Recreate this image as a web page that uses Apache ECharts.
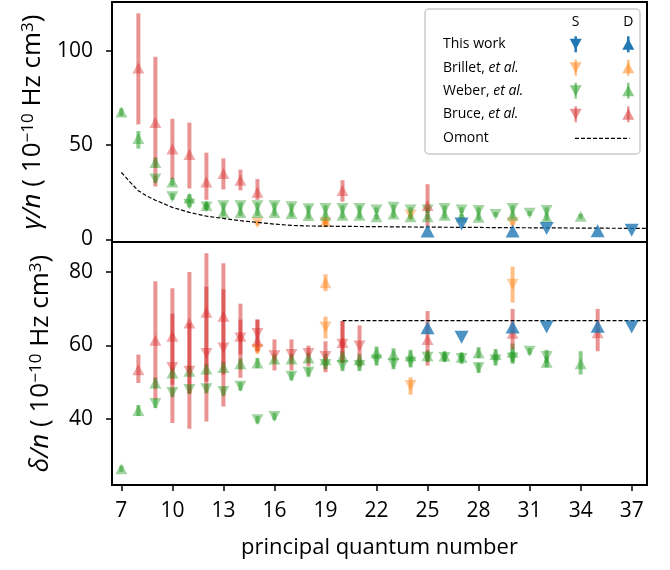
<!DOCTYPE html>
<html><head><meta charset="utf-8">
<script src="https://cdn.jsdelivr.net/npm/echarts@6/dist/echarts.min.js"></script>
<style>html,body{margin:0;padding:0;background:#fff}#c{width:670px;height:570px}</style>
</head><body><div id="c"></div>
<script>
// ---------- data ----------
const nTicks = [7,10,13,16,19,22,25,28,31,34,37];
const gammaTicks = [0,50,100];
const deltaTicks = [40,60,80];

// [n, value, errLow, errHigh]  -- top panel: gamma/n
const thisWorkS_gamma = [[27,8.1,8.1,8.1],[32,5.8,5.8,5.8],[37,4.9,4.9,4.9]];
const thisWorkD_gamma = [[25,4.4,4.4,4.4],[30,4.4,4.4,4.4],[35,4.6,4.6,4.6]];
const brilletS_gamma = [[15,8.8,7.5,10],[19,8.8,7.5,10],[24,12.9,11.5,14.5],[30,8.8,7.5,10]];
const brilletD_gamma = [[19,9.5,8,11]];
const weberS_gamma = [[9,32,30,34],[10,22.6,21,24.5],[11,18.7,17,20.5],[12,17.2,15.5,19],[13,17.8,16,19.5],[14,17.8,16,19.5],[15,17.8,16,19.5],[16,17.8,16,19.5],[17,17.3,15.5,19],[18,16.3,14.5,18],[19,16.4,14.5,18],[20,16.4,14.5,18],[21,16.4,14.5,18],[22,15.6,14,17],[23,17,15,18.5],[24,15.6,14,17],[25,15.6,14,17],[26,16.4,14.5,18],[27,15.6,14,17],[28,15.3,13.5,17],[29,13.2,12,14.5],[30,16.4,14.5,18],[31,13.8,12.5,15],[32,15.3,13.5,17]];
const weberD_gamma = [[7,67.6,65.5,69.5],[8,53.5,48.2,57.5],[9,40.8,38,43.5],[10,30.5,28.5,32.5],[11,22,20,24],[12,18,16,20],[13,14.2,12.5,16],[14,14.2,12.5,16],[15,14.2,12.5,16],[16,14.2,12.5,16],[17,13.7,12,15.5],[18,12.7,11,14.5],[19,12.8,11,14.5],[20,12.8,11,14.5],[21,12.8,11,14.5],[22,12,10.5,13.5],[23,13.4,11.5,15],[24,12,10.5,13.5],[25,12,10.5,13.5],[26,12.8,11,14.5],[27,12,10.5,13.5],[28,11.7,10,13.5],[30,12.8,11,14.5],[32,11.7,10,13.5],[34,12.3,11,13.5]];
const bruceD_gamma = [[8,91,61,120],[9,62,28,97],[10,48,32,64],[11,45,27,62],[12,30.5,21,46],[13,35,26.5,43],[14,31.4,26,37],[15,25,21,32],[20,26,20,31.4],[25,18,6.7,29.3]];
const omont_gamma = [[7,35.5],[7.5,30.5],[8,25.8],[8.5,23],[9,20.8],[10,17],[11,14.3],[12,12.3],[13,11.1],[14,9.9],[15,9.0],[16,8.1],[17,7.4],[18,7.1],[20,6.9],[25,6.5],[30,6.2],[37.9,5.8]];

// bottom panel: delta/n
const thisWorkS_delta = [[27,62.2,62.2,62.2],[32,65,65,65],[37,65,65,65]];
const thisWorkD_delta = [[25,64.8,64.8,64.8],[30,65,65,65],[35,65.2,65.2,65.2]];
const brilletS_delta = [[15,58.9,57.8,60],[19,65,61.9,67.8],[24,49.1,46.6,51.3],[30,76.6,71.6,81.4]];
const brilletD_delta = [[19,77,74.7,79.3]];
const weberS_delta = [[9,44.2,43,45.5],[10,47.2,46,48.5],[11,48,46.8,49.2],[12,48.2,47,49.5],[13,47.5,46.3,48.8],[14,48.9,47.7,50],[15,39.8,38.8,40.8],[16,40.7,39.7,41.7],[17,51.6,50.5,52.8],[18,52.7,51.5,54],[19,54.8,53.5,56],[20,54.5,53,56],[21,54.5,53,56],[22,56,54.5,57.5],[23,55,53.5,56.5],[24,55.4,54,57],[25,56.8,55.5,58],[26,56.7,55.5,58],[27,56.4,55,57.8],[28,53.9,52.5,55.3],[29,56,54.5,57.5],[30,56.6,55,58.2],[31,58.4,57.5,59.3],[32,57,55.2,58.8]];
const weberD_delta = [[7,26.5,25.7,27.3],[8,42.3,40.8,43.8],[9,49.8,48.3,51.3],[10,52.5,51,54],[11,53,51.5,54.5],[12,53.6,52,55],[13,54,52.5,55.5],[14,55,53.5,56.5],[15,55.2,53.8,56.6],[16,56.3,55,57.6],[17,56.3,55,57.6],[18,56.6,55.2,58],[19,56.1,54.5,57.7],[20,57,55.5,58.5],[21,56.1,54.5,57.7],[22,58,56.3,59.7],[23,57.5,55.8,59.2],[24,57.2,55.6,58.8],[25,57.2,55.7,58.7],[26,57.1,55.8,58.4],[27,56.8,55.5,58.1],[28,58,56.5,59.5],[29,57.5,56,59],[30,58.1,55.5,60.5],[32,55.4,54,57],[34,55,52.1,58.4]];
const bruceS_delta = [[10,54,49.3,68.6],[11,53,47,66],[12,57.8,50.2,75.9],[13,59.3,52,75.2],[14,62,57.5,67],[15,63.2,58.4,67],[16,57.2,53.2,61.6],[17,57.5,53.2,61.6],[18,57.8,54.3,59.9],[19,57,52.7,61.1],[20,60.3,55.2,66.6],[21,59.8,54.3,65.4]];
const bruceD_delta = [[8,53.4,49.8,57.5],[9,61.4,45.3,77.4],[10,62.5,38.9,75.5],[11,66.1,37.4,79.9],[12,69,39.3,85],[13,67.9,43.4,82.3],[14,62.5,51.2,71.3],[15,61.1,58.4,67],[20,60.8,55.2,66.6],[25,61.6,54.5,69.3],[30,63.3,58.9,69.9],[35,63.4,58.4,69.9]];
const omont_delta = [[20,66.7],[37.9,66.7]];

// ---------- styling ----------
const FONT = "'Open Sans', 'DejaVu Sans', sans-serif";
const C = {blue:'#1f77b4', orange:'#ff7f0e', green:'#2ca02c', red:'#d62728'};
function rgba(hex,a){const v=parseInt(hex.slice(1),16);return `rgba(${v>>16},${(v>>8)&255},${v&255},${a})`;}

function errSeries(data, idx, color, a){
  return {type:'custom', xAxisIndex:idx, yAxisIndex:idx, data:data.map(d=>[d[0],d[1],d[2],d[3]]),
    encode:{x:0,y:1}, z:2, silent:true,
    renderItem:(p,api)=>{
      const x=api.value(0), lo=api.value(2), hi=api.value(3);
      if (lo===hi) return null;
      const a1=api.coord([x,lo]), a2=api.coord([x,hi]);
      return {type:'line', shape:{x1:a1[0],y1:a1[1],x2:a2[0],y2:a2[1]}, style:{stroke:rgba(color,a), lineWidth:4}};
    }};
}
function markSeries(data, idx, color, up, a, size, z){
  return {type:'scatter', xAxisIndex:idx, yAxisIndex:idx, data:data.map(d=>[d[0],d[1]]),
    symbol:'triangle', symbolRotate: up?0:180, symbolSize:size, z:z, silent:true,
    itemStyle:{color:rgba(color,a)}};
}
function group(S, D, idx, color, a, size, z){
  const out=[];
  if (S) out.push(errSeries(S, idx, color, a));
  if (D) out.push(errSeries(D, idx, color, a));
  if (S) out.push(markSeries(S, idx, color, false, a, size, z));
  if (D) out.push(markSeries(D, idx, color, true, a, size, z));
  return out;
}

const series = [].concat(
  group(brilletS_gamma, brilletD_gamma, 0, C.orange, 0.5, [12,11], 3),
  group(weberS_gamma, weberD_gamma, 0, C.green, 0.55, [12,11], 3),
  group(null, bruceD_gamma, 0, C.red, 0.5, [12,11], 3),
  [{type:'line', xAxisIndex:0, yAxisIndex:0, data:omont_gamma, symbol:'none', silent:true, z:4,
    lineStyle:{color:'#000', width:1.2, type:[4,2]}}],
  group(thisWorkS_gamma, thisWorkD_gamma, 0, C.blue, 1, [14,13], 5),

  group(brilletS_delta, brilletD_delta, 1, C.orange, 0.5, [12,11], 3),
  group(weberS_delta, weberD_delta, 1, C.green, 0.55, [12,11], 3),
  group(bruceS_delta, bruceD_delta, 1, C.red, 0.5, [12,11], 3),
  [{type:'line', xAxisIndex:1, yAxisIndex:1, data:omont_delta, symbol:'none', silent:true, z:4,
    lineStyle:{color:'#000', width:1.2, type:[4,2]}}],
  group(thisWorkS_delta, thisWorkD_delta, 1, C.blue, 1, [14,13], 5)
);

const tickStyle = {color:'#000', width:1.5};
const labelStyle = {color:'#000', fontSize:21, fontFamily:FONT};
const nameRich = {
  t:{fontSize:26, fontFamily:FONT, color:'#000'},
  i:{fontSize:26, fontFamily:FONT, fontStyle:'italic', color:'#000'},
  s:{fontSize:17, fontFamily:FONT, color:'#000', verticalAlign:'top'}
};

// ---------- legend (graphic) ----------
const LX = 425, LY = 9, LW = 215, LH = 145;
const rowsY = [44.3, 67.7, 90.7, 114.3, 138.3];
const colS = 575.7, colD = 628.3;
function tri(cx, cy, up, color, w, h){
  const pts = up ? [[cx,cy-h/2],[cx-w/2,cy+h/2],[cx+w/2,cy+h/2]] : [[cx,cy+h/2],[cx-w/2,cy-h/2],[cx+w/2,cy-h/2]];
  return {type:'polygon', shape:{points:pts}, style:{fill:color}, z:101};
}
function stem(cx, cy, color){
  return {type:'line', shape:{x1:cx,y1:cy-8,x2:cx,y2:cy+8}, style:{stroke:color, lineWidth:2.5}, z:101};
}
const legendEls = [
  {type:'rect', shape:{x:LX,y:LY,width:LW,height:LH,r:4}, style:{fill:'rgba(255,255,255,0.85)', stroke:'#cccccc', lineWidth:1.5}, z:100},
  {type:'text', x:colS, y:21.7, style:{text:'S', fontSize:14, fontFamily:FONT, fill:'#000', align:'center', verticalAlign:'middle'}, z:101},
  {type:'text', x:colD, y:21.7, style:{text:'D', fontSize:14, fontFamily:FONT, fill:'#000', align:'center', verticalAlign:'middle'}, z:101}
];
const legRows = [
  {label:'{a|This work}', color:C.blue, a:1},
  {label:'{a|Brillet, }{b|et al.}', color:C.orange, a:0.5},
  {label:'{a|Weber, }{b|et al.}', color:C.green, a:0.55},
  {label:'{a|Bruce, }{b|et al.}', color:C.red, a:0.5}
];
legRows.forEach((r,i)=>{
  const y=rowsY[i]; const col=rgba(r.color,r.a);
  legendEls.push({type:'text', x:443, y:y, z:101, style:{text:r.label, verticalAlign:'middle', fill:'#000',
    rich:{a:{fontSize:14, fontFamily:FONT, fill:'#000'}, b:{fontSize:14, fontFamily:FONT, fontStyle:'italic', fill:'#000'}}}});
  legendEls.push(stem(colS, y, col), tri(colS, y, false, col, 12, 11));
  legendEls.push(stem(colD, y, col), tri(colD, y, true, col, 12, 11));
});
legendEls.push({type:'text', x:443, y:rowsY[4], z:101, style:{text:'Omont', fontSize:14, fontFamily:FONT, fill:'#000', verticalAlign:'middle'}});
legendEls.push({type:'line', shape:{x1:575, y1:rowsY[4], x2:629.5, y2:rowsY[4]}, style:{stroke:'#000', lineWidth:1.2, lineDash:[4,2]}, z:101});

const option = {
  animation:false,
  backgroundColor:'#fff',
  textStyle:{fontFamily:FONT},
  grid:[
    {left:112, right:23, top:2, height:240, show:true, borderColor:'#000', borderWidth:2, backgroundColor:'transparent'},
    {left:112, right:23, top:242, height:243, show:true, borderColor:'#000', borderWidth:2, backgroundColor:'transparent'}
  ],
  xAxis:[
    {gridIndex:0, type:'value', min:6.45, max:37.9, axisLine:{show:false}, axisTick:{show:false}, axisLabel:{show:false}, splitLine:{show:false}},
    {gridIndex:1, type:'value', min:6.45, max:37.9, axisLine:{show:false},
     axisTick:{show:true, length:6, lineStyle:tickStyle, customValues:nTicks},
     axisLabel:Object.assign({customValues:nTicks, margin:16}, labelStyle), splitLine:{show:false},
     name:'principal quantum number', nameLocation:'middle', nameGap:52,
     nameTextStyle:{fontSize:22, fontFamily:FONT, color:'#000'}}
  ],
  yAxis:[
    {gridIndex:0, type:'value', min:-1.4, max:126, axisLine:{show:false},
     axisTick:{show:true, length:6, lineStyle:tickStyle, customValues:gammaTicks},
     axisLabel:Object.assign({customValues:gammaTicks, margin:19}, labelStyle), splitLine:{show:false},
     name:'{i|γ/n}{t| ( 10}{s|−10}{t| Hz cm}{s|3}{t|)}', nameLocation:'middle', nameRotate:90, nameGap:58,
     nameTextStyle:{fontSize:26, fontFamily:FONT, color:'#000', rich:nameRich}},
    {gridIndex:1, type:'value', min:22.1, max:88.05, axisLine:{show:false},
     axisTick:{show:true, length:6, lineStyle:tickStyle, customValues:deltaTicks},
     axisLabel:Object.assign({customValues:deltaTicks, margin:19}, labelStyle), splitLine:{show:false},
     name:'{i|δ/n}{t| ( 10}{s|−10}{t| Hz cm}{s|3}{t|)}', nameLocation:'middle', nameRotate:90, nameGap:58,
     nameTextStyle:{fontSize:26, fontFamily:FONT, color:'#000', rich:nameRich}}
  ],
  series:series,
  graphic:legendEls
};
const chart = echarts.init(document.getElementById('c'), null, {renderer:'canvas'});
chart.setOption(option);
</script></body></html>
